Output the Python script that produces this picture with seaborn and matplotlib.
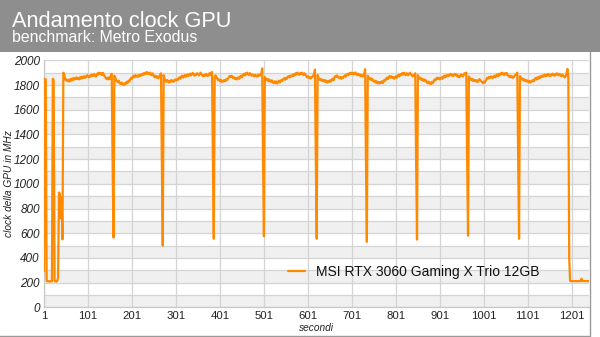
import numpy as np
import matplotlib
matplotlib.use("Agg")
import matplotlib.pyplot as plt
from matplotlib.lines import Line2D
from matplotlib.patches import Rectangle
import seaborn as sns

# ---------------- data (MHz, one sample every 2 s) ----------------
seg_start = [290, 1850, 1845, 215, 210, 212, 208, 210, 213, 210, 1850, 1842,
             215, 210, 208, 212, 240, 930, 915, 720, 890, 550]
seg_1 = [1900, 1885, 1850, 1838, 1845, 1830, 1842, 1828, 1848, 1836, 1852, 1840,
         1858, 1845, 1850, 1862, 1848, 1855, 1845, 1862, 1852, 1868, 1855, 1860,
         1872, 1858, 1866, 1880, 1870, 1862, 1875, 1868, 1884, 1872, 1878, 1890,
         1875, 1868, 1880, 1895, 1885, 1900, 1888, 1895, 1880, 1898, 1885, 1870,
         1860, 1848, 1858, 1845, 1862, 1850, 1870, 1890, 1150, 565]
seg_2 = [1875, 1860, 1842, 1830, 1822, 1835, 1815, 1808, 1820, 1805, 1812, 1800,
         1815, 1808, 1825, 1818, 1835, 1828, 1845, 1858, 1850, 1868, 1875, 1862,
         1880, 1872, 1865, 1878, 1870, 1882, 1875, 1888, 1880, 1895, 1885, 1900,
         1890, 1905, 1895, 1888, 1900, 1892, 1880, 1895, 1885, 1870, 1862, 1875,
         1860, 1868, 1855, 1872, 1880, 1895, 1150, 500]
seg_3 = [1880, 1850, 1838, 1825, 1840, 1830, 1820, 1835, 1826, 1840, 1832, 1825,
         1838, 1845, 1835, 1848, 1840, 1855, 1862, 1850, 1868, 1875, 1860, 1872,
         1880, 1866, 1878, 1885, 1872, 1880, 1892, 1878, 1888, 1898, 1885, 1875,
         1890, 1882, 1895, 1888, 1878, 1892, 1900, 1885, 1878, 1870, 1882, 1875,
         1890, 1880, 1872, 1885, 1895, 1880, 1900, 1905, 1180, 555]
seg_4 = [1870, 1878, 1868, 1850, 1838, 1845, 1830, 1842, 1825, 1835, 1828, 1840,
         1832, 1845, 1838, 1850, 1862, 1872, 1865, 1875, 1868, 1855, 1862, 1848,
         1858, 1845, 1855, 1862, 1850, 1868, 1875, 1862, 1880, 1890, 1878, 1895,
         1885, 1900, 1890, 1880, 1895, 1888, 1875, 1885, 1878, 1870, 1882, 1875,
         1868, 1880, 1872, 1885, 1878, 1890, 1935, 1180, 575]
seg_5 = [1865, 1852, 1840, 1848, 1832, 1845, 1835, 1825, 1838, 1822, 1815, 1830,
         1818, 1828, 1812, 1825, 1835, 1820, 1830, 1842, 1835, 1848, 1855, 1842,
         1858, 1850, 1865, 1872, 1860, 1875, 1868, 1880, 1872, 1888, 1878, 1895,
         1885, 1900, 1890, 1882, 1895, 1888, 1900, 1892, 1880, 1895, 1885, 1875,
         1862, 1870, 1858, 1865, 1852, 1860, 1868, 1875, 1888, 1925, 1170, 555]
seg_6 = [1880, 1860, 1845, 1838, 1848, 1835, 1842, 1830, 1840, 1825, 1835, 1820,
         1832, 1825, 1838, 1828, 1842, 1850, 1838, 1860, 1872, 1865, 1878, 1868,
         1860, 1855, 1865, 1850, 1862, 1858, 1870, 1878, 1868, 1882, 1890, 1880,
         1895, 1888, 1900, 1890, 1898, 1885, 1895, 1902, 1888, 1880, 1892, 1878,
         1885, 1872, 1880, 1868, 1875, 1890, 1928, 1160, 530]
seg_7 = [1875, 1860, 1848, 1855, 1840, 1850, 1838, 1828, 1835, 1820, 1830, 1815,
         1825, 1812, 1822, 1818, 1830, 1815, 1828, 1842, 1835, 1852, 1860, 1848,
         1865, 1872, 1860, 1870, 1858, 1865, 1852, 1862, 1870, 1858, 1875, 1882,
         1870, 1888, 1880, 1895, 1885, 1900, 1890, 1880, 1895, 1888, 1878, 1892,
         1900, 1885, 1878, 1870, 1880, 1875, 1895, 1170, 548]
seg_8 = [1880, 1862, 1850, 1858, 1842, 1850, 1835, 1845, 1830, 1838, 1825, 1815,
         1828, 1812, 1820, 1808, 1825, 1815, 1830, 1845, 1838, 1852, 1860, 1848,
         1858, 1845, 1855, 1862, 1850, 1868, 1875, 1862, 1878, 1870, 1882, 1872,
         1880, 1890, 1878, 1885, 1872, 1880, 1890, 1878, 1885, 1868, 1875, 1862,
         1872, 1885, 1878, 1870, 1880, 1895, 1888, 1900, 1190, 580]
seg_9 = [1870, 1855, 1842, 1850, 1835, 1845, 1832, 1840, 1828, 1838, 1825, 1835,
         1848, 1838, 1830, 1822, 1815, 1828, 1820, 1835, 1848, 1860, 1852, 1865,
         1858, 1870, 1862, 1855, 1868, 1875, 1862, 1878, 1885, 1872, 1890, 1880,
         1895, 1885, 1900, 1890, 1882, 1895, 1885, 1898, 1880, 1872, 1865, 1875,
         1862, 1870, 1858, 1865, 1875, 1882, 1890, 1900, 1180, 555]
seg_10 = [1872, 1858, 1845, 1852, 1838, 1845, 1832, 1840, 1828, 1835, 1822, 1832,
          1820, 1828, 1835, 1842, 1830, 1848, 1858, 1845, 1862, 1852, 1868, 1858,
          1872, 1865, 1878, 1868, 1882, 1872, 1885, 1875, 1890, 1880, 1872, 1885,
          1878, 1892, 1882, 1875, 1888, 1880, 1895, 1885, 1878, 1890, 1880, 1872,
          1885, 1878, 1868, 1862, 1870, 1895, 1930, 1860, 400]
seg_end = [215, 212, 212, 213, 212, 212, 213, 212, 212, 212, 212, 212,
           212, 232, 214, 213, 212, 212, 212, 213, 212, 212]

clock = np.array(seg_start + seg_1 + seg_2 + seg_3 + seg_4 + seg_5 + seg_6
                 + seg_7 + seg_8 + seg_9 + seg_10 + seg_end, dtype=float)
seconds = 1 + 2 * np.arange(len(clock))

x_ticks = [1, 101, 201, 301, 401, 501, 601, 701, 801, 901, 1001, 1101, 1201]
y_ticks = [0, 200, 400, 600, 800, 1000, 1200, 1400, 1600, 1800, 2000]
series_name = "MSI RTX 3060 Gaming X Trio 12GB"
title = "Andamento clock GPU"
subtitle = "benchmark: Metro Exodus"
x_label = "secondi"
y_label = "clock della GPU in MHz"

# ---------------- styling ----------------
sns.set_style("white")
plt.rcParams["font.family"] = ["Liberation Sans", "DejaVu Sans"]

W, H = 600, 337
fig = plt.figure(figsize=(W / 100, H / 100), dpi=100)
fig.patch.set_facecolor("white")

# header band
fig.patches.append(Rectangle((0, 1 - 51.5 / H), 1, 51.5 / H, transform=fig.transFigure,
                             facecolor="#8e8e8e", edgecolor="none", zorder=0))
fig.text(12 / W, 1 - 26.7 / H, title, color="white", fontsize=15.7, va="baseline", ha="left")
fig.text(12 / W, 1 - 42.3 / H, subtitle, color="white", fontsize=11.4, va="baseline", ha="left")

# outer frame (right and bottom)
fig.lines.append(Line2D([589.5 / W, 589.5 / W], [1 - 335.5 / H, 1 - 51.5 / H],
                        transform=fig.transFigure, color="#9a9a9a", lw=1.0))
fig.lines.append(Line2D([0, 589.5 / W], [1 - 335.5 / H, 1 - 335.5 / H],
                        transform=fig.transFigure, color="#9a9a9a", lw=1.0))

left, right, top, bottom = 44, 589, 60.3, 307.3
ax = fig.add_axes([left / W, 1 - bottom / H, (right - left) / W, (bottom - top) / H])
ax.set_facecolor("white")

# alternating bands
for b in range(0, 2000, 200):
    ax.axhspan(b, b + 100, color="#f0f0f0", lw=0, zorder=0)

sns.lineplot(x=seconds, y=clock, ax=ax, color="#ff8a00", lw=1.6, label=series_name, zorder=3)

ax.set_xlim(1, 1240)
ax.set_ylim(0, 2000)
ax.set_xticks(x_ticks)
ax.set_xticklabels([str(v) for v in x_ticks])
ax.set_yticks(y_ticks)
ax.set_yticklabels([str(v) for v in y_ticks])
ax.set_yticks(range(100, 2000, 200), minor=True)
ax.grid(True, which="major", axis="both", color="#d4d4d4", lw=0.9, zorder=1)
ax.grid(True, which="minor", axis="y", color="#d4d4d4", lw=0.9, zorder=1)
ax.set_axisbelow(True)
ax.tick_params(axis="both", which="both", length=0)
ax.tick_params(axis="y", pad=3, labelsize=8.5, labelcolor="#222222")
ax.tick_params(axis="x", pad=3, labelsize=8.2, labelcolor="#222222")
for lbl in ax.get_yticklabels():
    lbl.set_fontstyle("italic")
for side in ["top", "right"]:
    ax.spines[side].set_visible(False)
for side in ["left", "bottom"]:
    ax.spines[side].set_color("#c8c8c8")
    ax.spines[side].set_linewidth(0.9)
ax.set_xlabel("")
ax.set_ylabel("")

fig.text(316.5 / W, 1 - 328 / H, x_label, fontsize=7.3, fontstyle="italic",
         ha="center", va="center", color="#222222")
fig.text(9 / W, 1 - 184 / H, y_label, fontsize=7.3, fontstyle="italic", rotation=90,
         ha="center", va="center", color="#222222")

leg = ax.legend(loc="center left", bbox_to_anchor=(288 / W, 1 - 271.7 / H),
                bbox_transform=fig.transFigure, frameon=False, fontsize=10,
                handlelength=1.2, handletextpad=0.85, borderpad=0, borderaxespad=0)
for t in leg.get_texts():
    t.set_color("#111111")

fig.savefig("out.png", dpi=100)
